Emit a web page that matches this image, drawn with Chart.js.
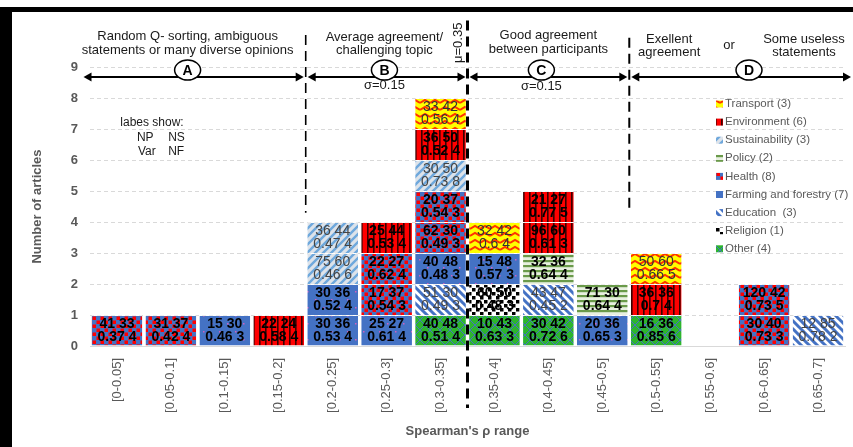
<!DOCTYPE html>
<html>
<head>
<meta charset="utf-8">
<script src="https://cdn.jsdelivr.net/npm/chart.js@4.4.1/dist/chart.umd.min.js"></script>
<style>
  html, body { margin: 0; padding: 0; background: #fff; }
  #wrap { position: relative; width: 853px; height: 447px; overflow: hidden; }
  #frame { position: absolute; left: 0; top: 7px; width: 853px; height: 440px; border-left: 12px solid #000; border-top: 5px solid #000; box-sizing: border-box; pointer-events: none; }
  canvas { position: absolute; left: 0; top: 0; }
</style>
</head>
<body>
<div id="wrap"><canvas id="chart" width="853" height="447"></canvas><div id="frame"></div></div>
<script>
// bins of Spearman's rho
const categories = ['[0-0.05]', '[0.05-0.1]', '[0.1-0.15]', '[0.15-0.2]', '[0.2-0.25]', '[0.25-0.3]', '[0.3-0.35]',
  '[0.35-0.4]', '[0.4-0.45]', '[0.45-0.5]', '[0.5-0.55]', '[0.55-0.6]', '[0.6-0.65]', '[0.65-0.7]'];

const topics = ['Transport', 'Environment', 'Sustainability', 'Policy', 'Health', 'Farming and forestry', 'Education ', 'Religion', 'Other'];
const topicCounts = [3, 6, 3, 2, 8, 7, 3, 1, 4];

// one article per segment, bottom to top (topic index)
const binTopics = [[4], [4], [5], [1], [5, 5, 2, 2], [5, 4, 4, 1], [8, 6, 5, 4, 4, 2, 1, 0], [8, 7, 5, 0],
  [8, 6, 3, 1, 1], [5, 3], [8, 1, 0], [], [4, 4], [6]];
// labels: NP NS / Var NF
const binNP = [[41], [31], [15], [22], [30, 30, 75, 36], [25, 17, 22, 25], [40, 51, 40, 62, 20, 30, 36, 33], [10, 60, 15, 32],
  [30, 43, 32, 96, 21], [20, 71], [16, 36, 50], [], [30, 120], [12]];
const binNS = [[33], [37], [30], [24], [36, 36, 60, 44], [27, 37, 27, 44], [48, 30, 48, 30, 37, 50, 50, 42], [43, 50, 48, 42],
  [42, 47, 36, 60, 27], [36, 30], [36, 36, 60], [], [40, 42], [85]];
const binVar = [[0.37], [0.42], [0.46], [0.58], [0.53, 0.52, 0.46, 0.47], [0.61, 0.54, 0.62, 0.53],
  [0.51, 0.49, 0.48, 0.49, 0.54, 0.73, 0.52, 0.56], [0.63, 0.48, 0.57, 0.6], [0.72, 0.45, 0.64, 0.61, 0.77], [0.65, 0.64],
  [0.85, 0.7, 0.66], [], [0.73, 0.73], [0.78]];
const binNF = [[4], [4], [3], [4], [4, 4, 6, 4], [4, 3, 4, 4], [4, 3, 3, 3, 3, 8, 4, 4], [3, 3, 3, 4], [6, 2, 4, 3, 5], [3, 4],
  [6, 4, 5], [], [3, 5], [2]];

// text style per topic
const topicBold = [false, true, false, true, true, true, false, true, true];
const topicInk = ['#333', '#000', '#444', '#000', '#000', '#000', '#444', '#000', '#000'];

const FONT = "'Liberation Sans', Arial, sans-serif";
const GREY = '#595959';

function tile(w, h, draw) {
  const c = document.createElement('canvas');
  c.width = w; c.height = h;
  const g = c.getContext('2d');
  draw(g, w, h);
  return c;
}

const canvas = document.getElementById('chart');
const ctx = canvas.getContext('2d');

const tiles = [
  // Transport: red waves on yellow
  tile(10, 7, (g, w, h) => {
    g.fillStyle = '#FFFF00'; g.fillRect(0, 0, w, h);
    g.strokeStyle = '#FF3300'; g.lineWidth = 2;
    g.beginPath(); g.moveTo(0, 5); g.lineTo(5, 2); g.lineTo(10, 5); g.stroke();
  }),
  // Environment: dark vertical lines on red
  tile(6, 6, (g, w, h) => {
    g.fillStyle = '#FF0000'; g.fillRect(0, 0, w, h);
    g.fillStyle = '#3a0000'; g.fillRect(1, 0, 1.6, h);
  }),
  // Sustainability: light blue diagonal on pale grey
  tile(8, 8, (g, w, h) => {
    g.fillStyle = '#DDE3EA'; g.fillRect(0, 0, w, h);
    g.strokeStyle = '#6FA8DC'; g.lineWidth = 2.4;
    g.beginPath();
    g.moveTo(0, 8); g.lineTo(8, 0);
    g.moveTo(-1, 1); g.lineTo(1, -1);
    g.moveTo(7, 9); g.lineTo(9, 7);
    g.stroke();
  }),
  // Policy: green horizontal stripes
  tile(6, 5, (g, w, h) => {
    g.fillStyle = '#E8F0E0'; g.fillRect(0, 0, w, h);
    g.fillStyle = '#6A9A4A'; g.fillRect(0, 0, w, 2.2);
  }),
  // Health: red squares on blue
  tile(8, 8, (g, w, h) => {
    g.fillStyle = '#4472C4'; g.fillRect(0, 0, w, h);
    g.fillStyle = '#FF0000'; g.fillRect(0.5, 0.5, 3.5, 3.5); g.fillRect(4.5, 4.5, 3.5, 3.5);
  }),
  // Farming and forestry: blue with tiny pink dots
  tile(16, 16, (g, w, h) => {
    g.fillStyle = '#4472C4'; g.fillRect(0, 0, w, h);
    g.fillStyle = '#D060C0'; g.fillRect(3, 3, 1.5, 1.5); g.fillRect(11, 11, 1.5, 1.5);
  }),
  // Education: blue / white diagonal stripes
  tile(8, 8, (g, w, h) => {
    g.fillStyle = '#FFFFFF'; g.fillRect(0, 0, w, h);
    g.strokeStyle = '#4472C4'; g.lineWidth = 3;
    g.beginPath();
    g.moveTo(0, 0); g.lineTo(8, 8);
    g.moveTo(-1, 7); g.lineTo(1, 9);
    g.moveTo(7, -1); g.lineTo(9, 1);
    g.stroke();
  }),
  // Religion: black squares on white
  tile(8, 8, (g, w, h) => {
    g.fillStyle = '#FFFFFF'; g.fillRect(0, 0, w, h);
    g.fillStyle = '#000000'; g.fillRect(0, 0, 3.5, 3.5); g.fillRect(4, 4, 3.5, 3.5);
  }),
  // Other: green with blue lattice
  tile(10, 10, (g, w, h) => {
    g.fillStyle = '#2DB52D'; g.fillRect(0, 0, w, h);
    g.strokeStyle = '#4472C4'; g.lineWidth = 1;
    g.beginPath();
    g.moveTo(0, 0); g.lineTo(10, 10);
    g.moveTo(0, 10); g.lineTo(10, 0);
    g.stroke();
  })
];
const patterns = tiles.map(t => ctx.createPattern(t, 'repeat'));

const maxLevel = Math.max(...binTopics.map(b => b.length));
const datasets = [];
for (let L = 0; L < maxLevel; L++) {
  datasets.push({
    label: 'level ' + L,
    data: binTopics.map(b => (b.length > L ? 1 : null)),
    backgroundColor: binTopics.map(b => (b.length > L ? patterns[b[L]] : 'transparent')),
    borderColor: 'rgba(255,255,255,0.55)',
    borderWidth: { top: 1, right: 0, bottom: 0, left: 0 },
    borderSkipped: false,
    barPercentage: 0.94,
    categoryPercentage: 1.0
  });
}

const segmentLabels = {
  id: 'segmentLabels',
  afterDatasetsDraw(chart) {
    const c = chart.ctx;
    c.save();
    c.textAlign = 'center';
    c.textBaseline = 'middle';
    chart.data.datasets.forEach((ds, L) => {
      chart.getDatasetMeta(L).data.forEach((bar, i) => {
        if (binTopics[i].length <= L) return;
        const t = binTopics[i][L];
        const cy = (bar.y + bar.base) / 2;
        c.font = (topicBold[t] ? 'bold ' : '') + '14px ' + FONT;
        c.fillStyle = topicInk[t];
        c.fillText(binNP[i][L] + ' ' + binNS[i][L], bar.x, cy - 6.5);
        c.fillText(binVar[i][L] + ' ' + binNF[i][L], bar.x, cy + 6.5);
      });
    });
    c.restore();
  }
};

const annotations = {
  id: 'annotations',
  afterDraw(chart) {
    const c = chart.ctx;
    const xs = chart.scales.x, ys = chart.scales.y;
    const X = v => xs.getPixelForValue(v);
    const Y = v => ys.getPixelForValue(v);
    c.save();

    // region dividers
    const vline = (xv, y1, y2, w, dash) => {
      c.beginPath();
      c.setLineDash(dash);
      c.lineWidth = w;
      c.strokeStyle = '#000';
      c.moveTo(X(xv), Y(y1)); c.lineTo(X(xv), Y(y2));
      c.stroke();
    };
    vline(3.5, 10.03, 4.3, 1.6, [10, 6]);
    vline(6.5, 10.5, -2.0, 3, [10, 6]);
    vline(9.5, 9.94, 4.3, 2, [10, 6]);
    c.setLineDash([]);

    // arrows
    const ay = Y(8.68);
    const head = (x, dir) => {
      c.beginPath();
      c.moveTo(x, ay);
      c.lineTo(x - dir * 8, ay - 4.5);
      c.lineTo(x - dir * 8, ay + 4.5);
      c.closePath();
      c.fill();
    };
    const arrow = (x1, x2) => {
      c.beginPath();
      c.lineWidth = 2;
      c.moveTo(x1 + 4, ay); c.lineTo(x2 - 4, ay);
      c.stroke();
      head(x1, -1); head(x2, 1);
    };
    c.fillStyle = '#000';
    c.strokeStyle = '#000';
    arrow(X(-0.62), X(3.5) - 2);
    arrow(X(3.5) + 2, X(6.5) - 2);
    arrow(X(6.5) + 2, X(9.5) - 2);
    arrow(X(9.5) + 2, chart.width - 2);

    // region letters
    const badge = (xv, letter) => {
      const cx = X(xv), cy = Y(8.9);
      c.beginPath();
      c.ellipse(cx, cy, 13, 10, 0, 0, Math.PI * 2);
      c.fillStyle = '#fff'; c.fill();
      c.lineWidth = 1.5; c.strokeStyle = '#000'; c.stroke();
      c.fillStyle = '#000';
      c.font = 'bold 14px ' + FONT;
      c.textAlign = 'center'; c.textBaseline = 'middle';
      c.fillText(letter, cx, cy + 1);
    };
    badge(1.31, 'A'); badge(4.96, 'B'); badge(7.87, 'C'); badge(11.72, 'D');

    // headers
    c.fillStyle = '#1a1a1a';
    c.font = '13px ' + FONT;
    c.textAlign = 'center'; c.textBaseline = 'middle';
    const txt = (s, xv, yv) => c.fillText(s, X(xv), Y(yv));
    txt('Random Q- sorting, ambiguous', 1.31, 10.0);
    txt('statements or many diverse opinions', 1.31, 9.55);
    txt('Average agreement/', 4.96, 9.94);
    txt('challenging topic', 4.96, 9.52);
    txt('Good agreement', 8.0, 10.03);
    txt('between participants', 8.0, 9.58);
    txt('Exellent', 10.24, 9.9);
    txt('agreement', 10.24, 9.48);
    txt('or', 11.35, 9.71);
    txt('Some useless', 12.74, 9.9);
    txt('statements', 12.74, 9.48);
    txt('σ=0.15', 4.96, 8.39);
    txt('σ=0.15', 7.87, 8.36);

    // mean marker
    c.save();
    c.translate(X(6.5) - 9, Y(9.78));
    c.rotate(-Math.PI / 2);
    c.fillText('μ=0.35', 0, 0);
    c.restore();

    // label key
    c.font = '12px ' + FONT;
    c.textAlign = 'center';
    txt('labes show:', 0.65, 7.19);
    c.textAlign = 'left';
    txt('NP', 0.37, 6.71); txt('NS', 0.95, 6.71);
    txt('Var', 0.39, 6.26); txt('NF', 0.95, 6.26);

    // legend
    c.font = '11.5px ' + FONT;
    c.textBaseline = 'middle';
    topics.forEach((name, k) => {
      const ly = 104 + k * 18.1;
      c.fillStyle = patterns[k];
      c.fillRect(716, ly - 3.5, 7, 7);
      c.fillStyle = GREY;
      c.fillText(name + ' (' + topicCounts[k] + ')', 725, ly);
    });

    c.restore();
  }
};

new Chart(ctx, {
  type: 'bar',
  data: { labels: categories, datasets: datasets },
  options: {
    responsive: false,
    animation: false,
    layout: { padding: { top: 67, right: 8, left: 0, bottom: 0 } },
    plugins: {
      legend: { display: false },
      tooltip: { enabled: false }
    },
    scales: {
      x: {
        stacked: true,
        grid: { display: false },
        border: { display: true, color: '#D9D9D9', width: 1 },
        ticks: { autoSkip: false, minRotation: 90, maxRotation: 90, padding: 4, color: GREY, font: { family: FONT, size: 13 } },
        title: { display: true, text: "Spearman's ρ range", color: GREY, font: { family: FONT, size: 13, weight: 'bold' }, padding: { top: 0, bottom: 8 } },
        afterFit: s => { s.height = 101; }
      },
      y: {
        stacked: true,
        min: 0,
        max: 9,
        grid: { drawTicks: false, color: c => (c.tick && c.tick.value === 0 ? 'rgba(0,0,0,0)' : '#D9D9D9') },
        border: { display: false, dash: [4, 3] },
        ticks: { stepSize: 1, padding: 12, color: GREY, font: { family: FONT, size: 13, weight: 'bold' } },
        title: { display: true, text: 'Number of articles', color: GREY, font: { family: FONT, size: 13, weight: 'bold' }, padding: { top: 30, bottom: 0 } },
        afterFit: s => { s.width = 90; }
      }
    }
  },
  plugins: [segmentLabels, annotations]
});
</script>
</body>
</html>
